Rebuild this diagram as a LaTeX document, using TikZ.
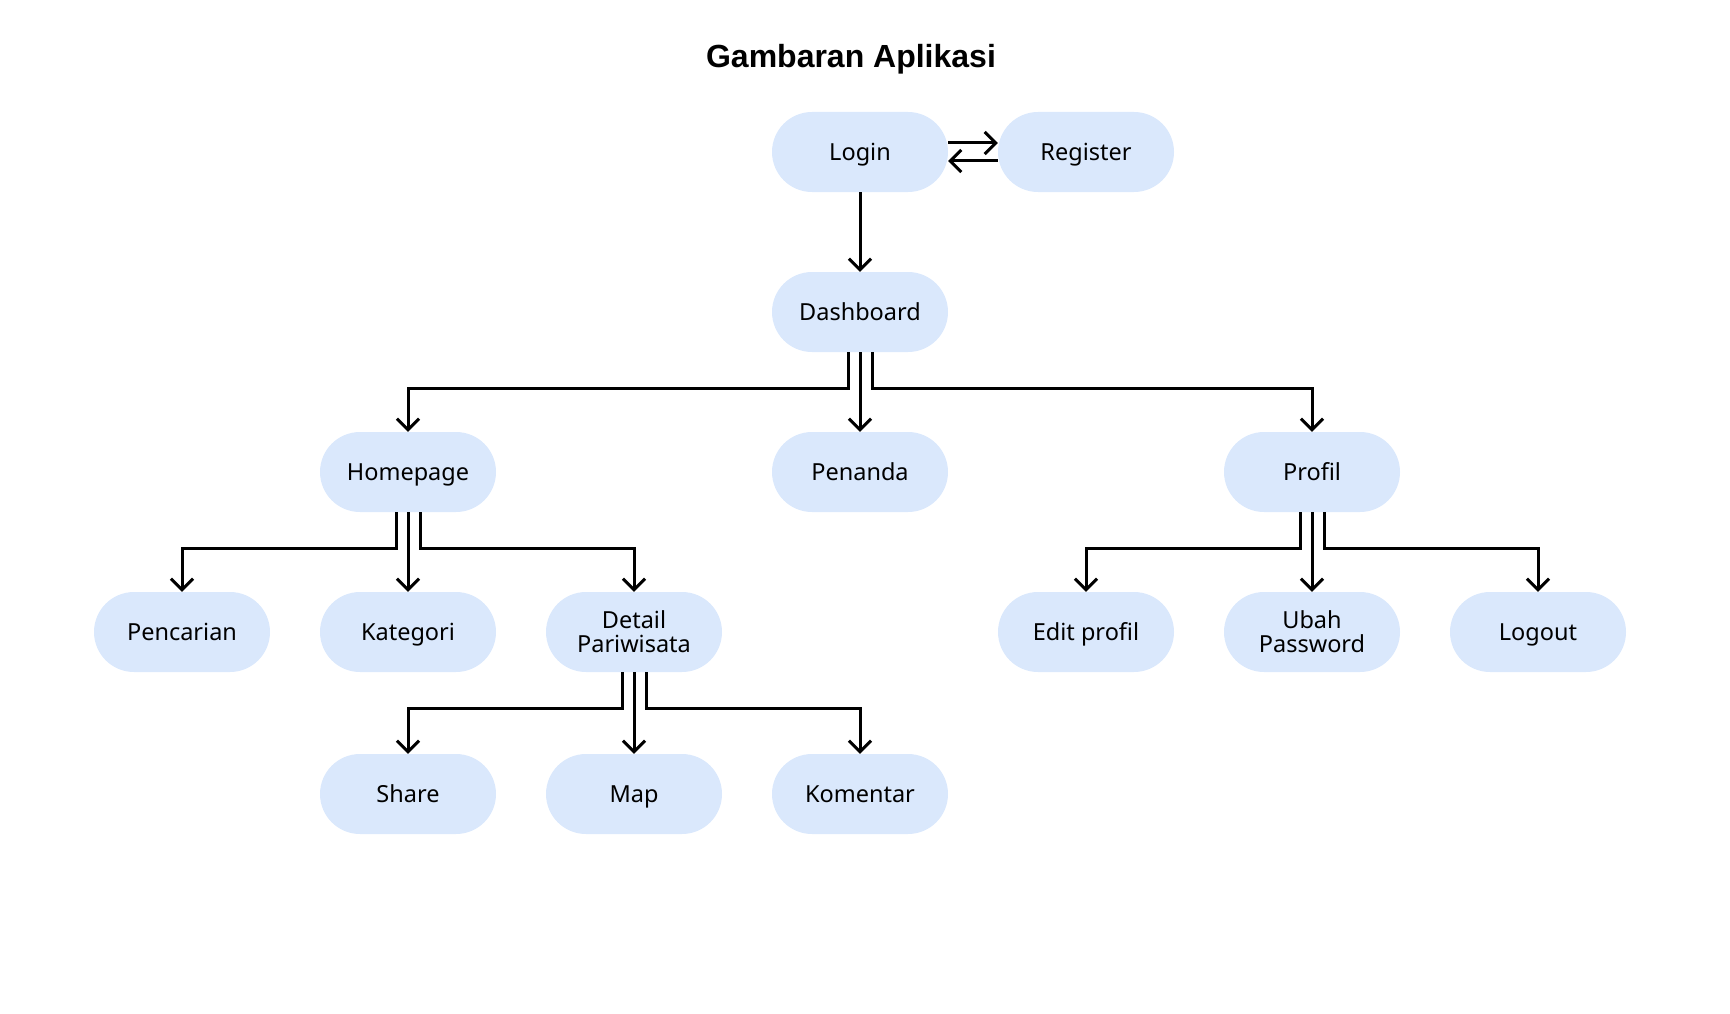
\documentclass[tikz,border=0pt]{standalone}
\usepackage{fontspec}
\setmainfont{Noto Sans}
\newfontfamily\titlefont{Liberation Sans}
\usetikzlibrary{arrows.meta}
\definecolor{boxfill}{HTML}{DAE8FC}
\begin{document}
\begin{tikzpicture}[x=1pt,y=-1pt,
  box/.style={fill=boxfill, rounded corners=40pt, minimum width=176pt, minimum height=80pt,
    inner sep=0pt, align=center, text height=17.4pt, text depth=0pt,
    font=\fontsize{23.5}{24}\selectfont, text=black},
  twoline/.style={box, text height=41.4pt, text depth=0pt},
  conn/.style={line width=3pt, -{Straight Barb[length=11pt,width=22pt]}},
  titlestyle/.style={font=\titlefont\bfseries\fontsize{32}{36}\selectfont, text=black, inner sep=0pt,
    text height=23pt, text depth=0pt}]
\useasboundingbox (0,0) rectangle (1730,1014);
\node[titlestyle] (title) at (851,56.5) {Gambaran Aplikasi};
\node[box] (login) at (860,152) {Login};
\node[box] (register) at (1086,152) {Register};
\node[box] (dash) at (860,312) {Dashboard};
\node[box] (home) at (408,472) {Homepage};
\node[box] (pen) at (860,472) {Penanda};
\node[box] (prof) at (1312,472) {Profil};
\node[box] (penc) at (182,632) {Pencarian};
\node[box] (kat) at (408,632) {Kategori};
\node[twoline] (det) at (634,632) {Detail\\Pariwisata};
\node[box] (edit) at (1086,632) {Edit profil};
\node[twoline] (ubah) at (1312,632) {Ubah\\Password};
\node[box] (logout) at (1538,632) {Logout};
\node[box] (share) at (408,794) {Share};
\node[box] (map) at (634,794) {Map};
\node[box] (kom) at (860,794) {Komentar};
% login/register
\draw[conn] ([yshift=9pt]login.east) -- ([yshift=9pt]register.west);
\draw[conn] ([yshift=-9pt]register.west) -- ([yshift=-9pt]login.east);
\draw[conn] (login.south) -- (dash.north);
% dashboard
\draw[conn] ([xshift=-12pt]dash.south) -- ++(0,36) -| (home.north);
\draw[conn] (dash.south) -- (pen.north);
\draw[conn] ([xshift=12pt]dash.south) -- ++(0,36) -| (prof.north);
% homepage
\draw[conn] ([xshift=-12pt]home.south) -- ++(0,36) -| (penc.north);
\draw[conn] (home.south) -- (kat.north);
\draw[conn] ([xshift=12pt]home.south) -- ++(0,36) -| (det.north);
% profil
\draw[conn] ([xshift=-12pt]prof.south) -- ++(0,36) -| (edit.north);
\draw[conn] (prof.south) -- (ubah.north);
\draw[conn] ([xshift=12pt]prof.south) -- ++(0,36) -| (logout.north);
% detail
\draw[conn] ([xshift=-12pt]det.south) -- ++(0,36) -| (share.north);
\draw[conn] (det.south) -- (map.north);
\draw[conn] ([xshift=12pt]det.south) -- ++(0,36) -| (kom.north);
\end{tikzpicture}
\end{document}
